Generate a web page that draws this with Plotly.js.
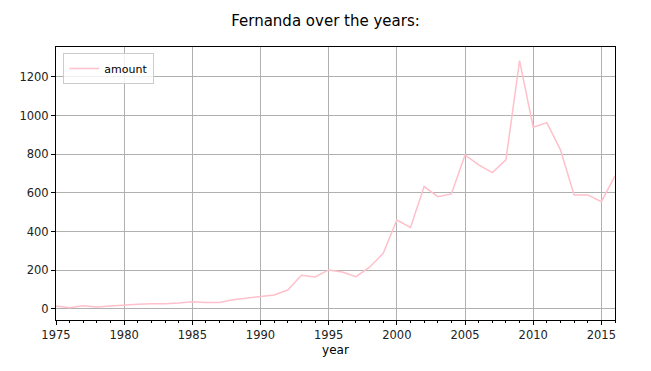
<!DOCTYPE html>
<html>
<head>
<meta charset="utf-8">
<script src="https://cdn.plot.ly/plotly-3.0.1.min.js"></script>
<style>html,body{margin:0;padding:0;background:#fff;}</style>
</head>
<body>
<div id="chart" style="width:651px;height:371px;"></div>
<script>
const years = [1975,1976,1977,1978,1979,1980,1981,1982,1983,1984,1985,1986,1987,1988,1989,1990,1991,1992,1993,1994,1995,1996,1997,1998,1999,2000,2001,2002,2003,2004,2005,2006,2007,2008,2009,2010,2011,2012,2013,2014,2015,2016];
const amount = [16,7,17,10,16,22,25,27,27,31,38,33,33,48,56,67,72,98,174,166,202,191,167,216,288,460,422,633,581,595,797,745,705,771,1285,940,964,823,590,590,555,688];
const seriesName = "amount";
const titleText = "Fernanda over the years:";
const xTitle = "year";

const ff = "DejaVu Sans";
Plotly.newPlot("chart", [{
  x: years, y: amount, type: "scatter", mode: "lines", name: seriesName,
  line: {color: "#FFC0CB", width: 1.5}
}], {
  width: 651, height: 371,
  margin: {l: 56, r: 36, t: 47, b: 51},
  paper_bgcolor: "#fff", plot_bgcolor: "#fff",
  font: {family: ff, size: 12, color: "#222"},
  title: {text: titleText, x: 0.5, xref: "container", xanchor: "center", y: 0.945, yanchor: "middle", font: {family: ff, size: 15, color: "#000"}},
  showlegend: true,
  legend: {x: 0.013, y: 0.978, xanchor: "left", yanchor: "top", bgcolor: "rgba(255,255,255,0.8)", bordercolor: "#ccc", borderwidth: 1,
           tracegroupgap: 0, itemwidth: 30, font: {family: ff, size: 11, color: "#000"}},
  xaxis: {
    range: [1975, 2016], tickmode: "linear", tick0: 1975, dtick: 5,
    showgrid: true, gridcolor: "#b0b0b0", gridwidth: 1,
    showline: true, linecolor: "#000", linewidth: 1, mirror: true,
    ticks: "outside", ticklen: 4, tickcolor: "#000",
    minor: {dtick: 1, tick0: 1975, ticks: "outside", ticklen: 2, tickcolor: "#000", showgrid: false},
    zeroline: false,
    title: {text: xTitle, standoff: 4, font: {family: ff, size: 12, color: "#000"}},
    tickfont: {family: ff, size: 11.5, color: "#222"}
  },
  yaxis: {
    range: [-57, 1355], tickmode: "linear", tick0: 0, dtick: 200,
    showgrid: true, gridcolor: "#b0b0b0", gridwidth: 1,
    showline: true, linecolor: "#000", linewidth: 1, mirror: true,
    ticks: "outside", ticklen: 4, tickcolor: "#000",
    zeroline: false,
    tickfont: {family: ff, size: 11.5, color: "#222"}
  }
}, {displayModeBar: false, staticPlot: true});
</script>
</body>
</html>
